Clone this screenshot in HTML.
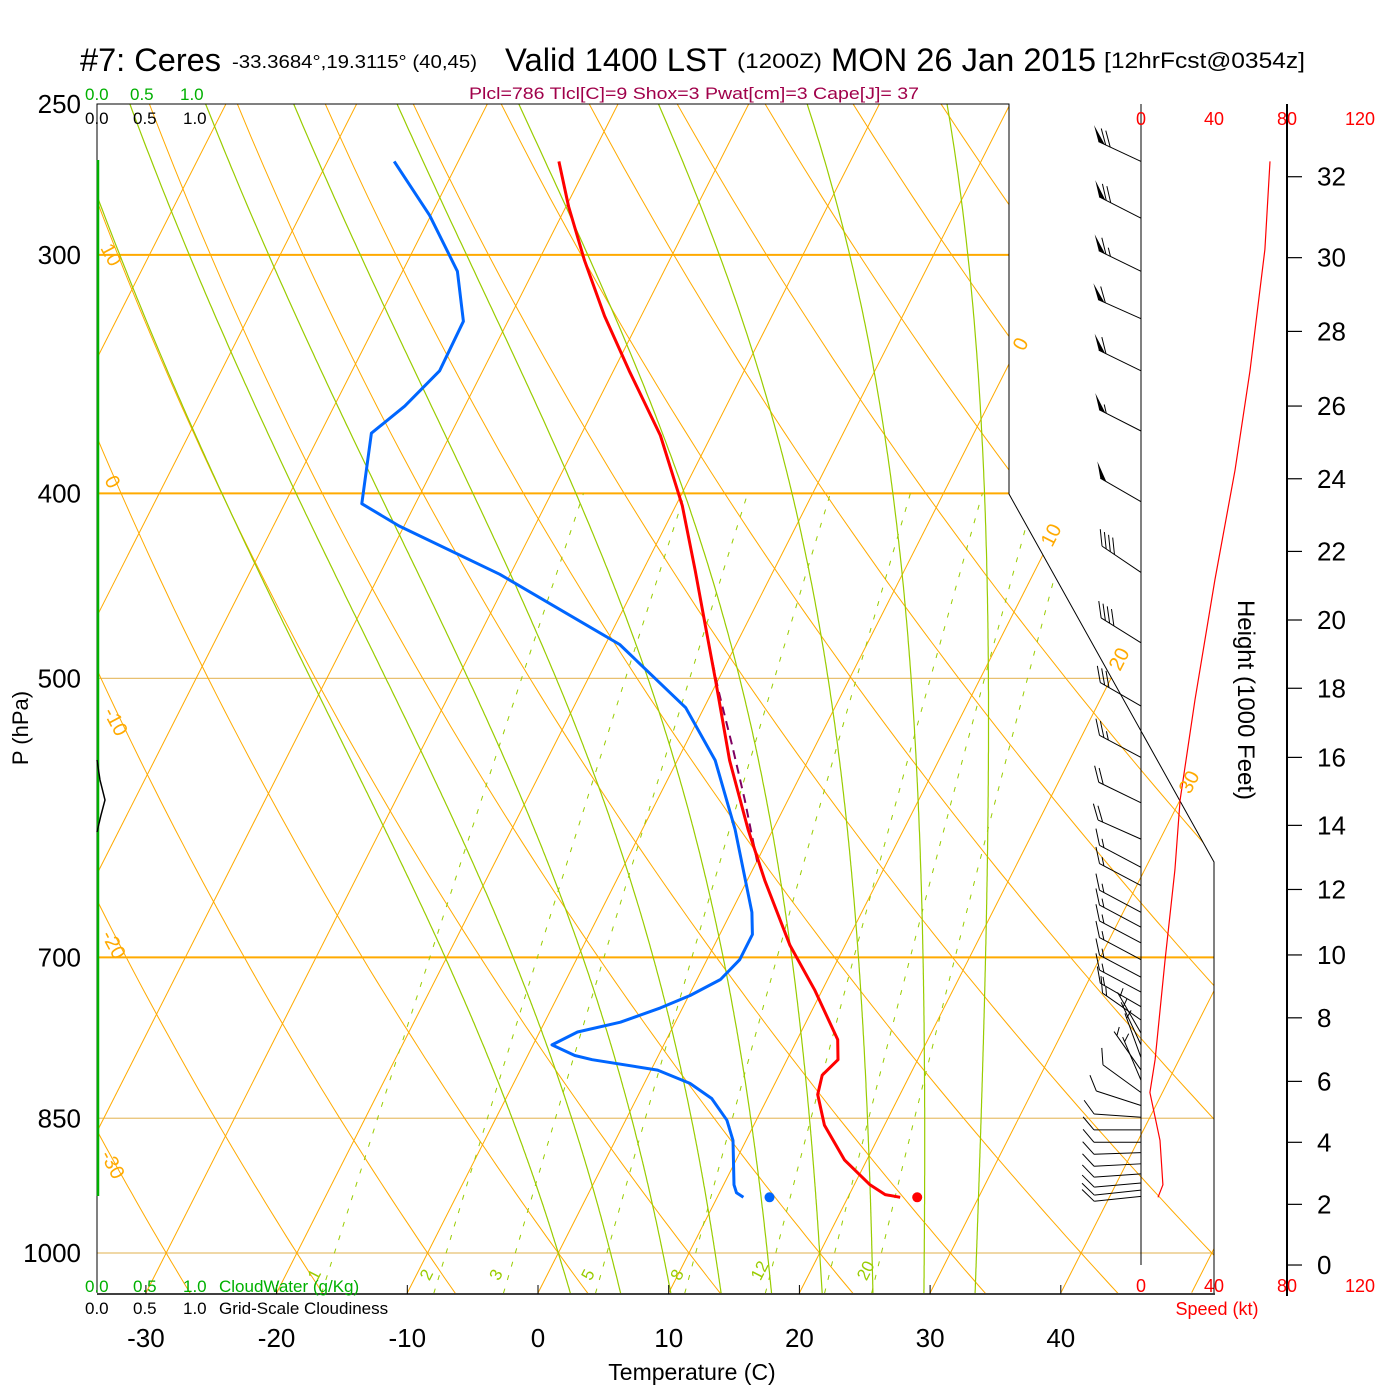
<!DOCTYPE html>
<html><head><meta charset="utf-8"><style>
html,body{margin:0;padding:0;background:#fff;overflow:hidden;}
svg{display:block;font-family:"Liberation Sans",sans-serif;}
</style></head><body>
<svg id="chart" width="1400" height="1400" viewBox="0 0 1400 1400" xmlns="http://www.w3.org/2000/svg">
<defs><clipPath id="plotclip"><polygon points="97,104 1009,104 1009,494 1214,862 1214,1293 97,1293"/></clipPath></defs>
<g id="title">
<text x="80" y="71" font-size="32" textLength="141" lengthAdjust="spacingAndGlyphs">#7: Ceres</text>
<text x="232" y="68" font-size="18" textLength="245" lengthAdjust="spacingAndGlyphs">-33.3684°,19.3115° (40,45)</text>
<text x="505" y="71" font-size="32" textLength="222" lengthAdjust="spacingAndGlyphs">Valid 1400 LST</text>
<text x="737" y="68" font-size="21" textLength="85" lengthAdjust="spacingAndGlyphs">(1200Z)</text>
<text x="831" y="71" font-size="32" textLength="265" lengthAdjust="spacingAndGlyphs">MON 26 Jan 2015</text>
<text x="1104" y="68" font-size="22" textLength="201" lengthAdjust="spacingAndGlyphs">[12hrFcst@0354z]</text>
<text x="469" y="99" font-size="17" fill="#a0004a" textLength="450" lengthAdjust="spacingAndGlyphs">Plcl=786 Tlcl[C]=9 Shox=3 Pwat[cm]=3 Cape[J]= 37</text>
</g>
<g id="grid" clip-path="url(#plotclip)"></g>
<g id="frame"></g>
<g id="curves"></g>
<g id="winds"></g>
<g id="labels"></g>
<g>
<g fill="#00b000" font-size="17">
<text x="85" y="100">0.0</text><text x="130" y="100">0.5</text><text x="180" y="100">1.0</text>
<text x="85" y="1292">0.0</text><text x="133" y="1292">0.5</text><text x="183" y="1292">1.0</text>
<text x="219" y="1292">CloudWater (g/Kg)</text>
</g>
<g fill="#000" font-size="17">
<text x="85" y="124">0.0</text><text x="133" y="124">0.5</text><text x="183" y="124">1.0</text>
<text x="85" y="1314">0.0</text><text x="133" y="1314">0.5</text><text x="183" y="1314">1.0</text>
<text x="219" y="1314">Grid-Scale Cloudiness</text>
</g>
<g fill="#ffaa00" font-size="20">
<text x="100" y="248" transform="rotate(62 100 248)">10</text>
<text x="104" y="480" transform="rotate(62 104 480)">0</text>
<text x="103" y="712" transform="rotate(62 103 712)">-10</text>
<text x="101" y="935" transform="rotate(62 101 935)">-20</text>
<text x="100" y="1155" transform="rotate(62 100 1155)">-30</text>
<text x="1024" y="352" transform="rotate(-63 1024 352)">0</text>
<text x="1052" y="548" transform="rotate(-63 1052 548)">10</text>
<text x="1120" y="672" transform="rotate(-63 1120 672)">20</text>
<text x="1190" y="795" transform="rotate(-63 1190 795)">30</text>
</g>
<text x="692" y="1380" font-size="23" text-anchor="middle">Temperature (C)</text>
<text x="28" y="728" font-size="22" text-anchor="middle" transform="rotate(-90 28 728)">P (hPa)</text>
<text x="1238" y="700" font-size="24" text-anchor="middle" transform="rotate(90 1238 700)">Height (1000 Feet)</text>
<text x="1217" y="1315" font-size="18" fill="#ff0000" text-anchor="middle">Speed (kt)</text>
</g>
</svg>
<script>
// ---------- data ----------
const tempP = [268,283,302,323,345,373,406,439,469,501,552,600,638,690,728,773,792,807,826,857,894,921,932,935];
const tempT = [-42.3,-39.8,-36.5,-32.8,-28.8,-23.9,-19.5,-16.0,-13.1,-10.2,-6.0,-1.9,1.35,5.8,9.4,13.1,13.9,13.3,13.7,15.4,18.3,21.2,22.75,24.0];
const dewP = [268,286,306,325,345,360,372,405,416,441,480,518,552,600,663,681,702,719,733,744,757,766,778,788,792,802,815,830,852,873,921,930,935];
const dewT = [-54.9,-50.1,-45.8,-43.4,-43.3,-44.6,-46.1,-44.1,-40.4,-30.8,-18.9,-11.4,-7.1,-2.9,1.6,2.5,2.5,1.8,0.1,-1.7,-4.2,-7.1,-8.55,-6.4,-4.9,0.5,3.5,5.75,7.75,9.0,10.8,11.3,12.0];
const parcelP = [482,507,542,579,626];
const parcelT = [-11.9,-9.6,-6.4,-3.3,0.2];
const sfcP = 935, sfcT = 25.3, sfcTd = 14.0;
const windP = [268,287,306,324,345,371,404,440,479,517,550,581,607,628,642,663,675,688,702,717,730,743,755,767,778,790,802,812,824,837,849,862,875,886,898,909,919,927,934];
const windSpd = [70,70,65,60,60,55,50,40,40,30,25,20,20,15,15,15,15,15,15,15,15,15,15,5,5,5,5,5,10,10,10,10,10,10,10,10,10,10,10];
const windDir = [295,297,296,294,296,297,300,304,302,300,298,296,294,298,298,298,298,298,298,298,298,300,305,330,335,340,325,337,306,288,274,270,270,268,267,266,265,264,264];
const speedP = [268,298,345,389,444,513,579,630,702,792,824,873,921,935];
const speedVal = [70.7,67.9,59.7,51.5,40.5,29.6,21.4,18.6,13.2,7.7,4.9,10.4,12,9.3];
const heightTicks = [0,2,4,6,8,10,12,14,16,18,20,22,24,26,28,30,32];
const heightP = [1014.6,943,875,813,753,698,645,597,550,506,466,429,393,360,329,301,273];
const isoT = [-110,-100,-90,-80,-70,-60,-50,-40,-30,-20,-10,0,10,20,30,40,50];
const thetaC = [-40,-30,-20,-10,0,10,20,30,40,50,60,70,80,90,100,110,120,130,140,150,160,170,180];
const thetaW = [0,4,8,12,16,20,24,28,32];
const mixR = [1,2,3,5,8,12,16,20];
const mixLbl = [1,2,3,5,8,12,20];
const pLabels = [250,300,400,500,700,850,1000];
const tLabels = [-30,-20,-10,0,10,20,30,40];
const spdLabels = [0,40,80,120];

// ---------- axes ----------
const NS="http://www.w3.org/2000/svg";
function yP(p){return 1253+829*Math.log(p/1000);}
function xT(T,p){return 538+13.07*T+0.507*(1293-yP(p));}
function xS(s){return 1141+s*73/40;}
function mk(tag,attrs,parent){const e=document.createElementNS(NS,tag);for(const k in attrs)e.setAttribute(k,attrs[k]);parent.appendChild(e);return e;}
function es(T){return 6.112*Math.exp(17.67*T/(T+243.5));}
function tdFromE(e){const l=Math.log(e/6.112);return 243.5*l/(17.67-l);}
const G=document.getElementById('grid'),F=document.getElementById('frame'),C=document.getElementById('curves'),W=document.getElementById('winds'),L=document.getElementById('labels');
const ORG="#ffaa00",GRN="#99cc00";

pLabels.forEach(p=>{
  const thick=(p===300||p===400||p===700);
  const l=mk('line',{x1:97,x2:1214,y1:yP(p),y2:yP(p),stroke:thick?ORG:"#e8c070","stroke-width":thick?2:1.2},G);
  
  
});
isoT.forEach(T=>{
  const l=mk('line',{x1:xT(T,1049),y1:yP(1049),x2:xT(T,240),y2:yP(240),stroke:ORG,"stroke-width":1},G);
  
  
});
thetaC.forEach(th=>{
  let pts=[];for(let p=1050;p>=240;p-=10){const T=(th+273.15)*Math.pow(p/1000,0.2857)-273.15;pts.push(xT(T,p).toFixed(1)+','+yP(p).toFixed(1));}
  const l=mk('polyline',{points:pts.join(' '),fill:'none',stroke:ORG,"stroke-width":1},G);
  
  
});
function dTdp(Tk,p){const e=es(Tk-273.15);const rs=0.622*e/(p-e);return (287*Tk+2.5e6*rs)/(p*(1004+2.5e6*2.5e6*rs*0.622/(287*Tk*Tk)));}
thetaW.forEach(tw=>{
  let up=[],T=tw+273.15;
  for(let p=1000;p>=240;p-=2){up.push([p,T]);T-=dTdp(T,p)*2;}
  let dn=[];T=tw+273.15;
  for(let p=1000;p<=1052;p+=2){dn.push([p,T]);T+=dTdp(T,p)*2;}
  const all=dn.reverse().concat(up);
  const pts=all.map(a=>xT(a[1]-273.15,a[0]).toFixed(1)+','+yP(a[0]).toFixed(1));
  const l=mk('polyline',{points:pts.join(' '),fill:'none',stroke:GRN,"stroke-width":1.2},G);
  
  
});
mixR.forEach(w=>{
  let pts=[];for(let p=1050;p>=400;p-=10){const e=w*p/(622+w);pts.push(xT(tdFromE(e),p).toFixed(1)+','+yP(p).toFixed(1));}
  const l=mk('polyline',{points:pts.join(' '),fill:'none',stroke:GRN,"stroke-width":1,"stroke-dasharray":"5,9"},G);
  
  
});
mixLbl.forEach(w=>{
  const p=1035,e=w*p/(622+w),x=xT(tdFromE(e),p)-8,y=yP(p);
  const t=mk('text',{x:x,y:y,"font-size":17,fill:GRN,transform:`rotate(-63 ${x} ${y})`},L);
  t.textContent=w;
  
  
});

mk('polyline',{points:"97,1293 97,104 1009,104 1009,494 1214,862 1214,1293",fill:'none',stroke:'#000',"stroke-width":1},F);
mk('line',{x1:97,y1:1294,x2:1215,y2:1294,stroke:'#000',"stroke-width":1.5},F);
mk('line',{x1:1141,y1:104,x2:1141,y2:1265,stroke:'#000',"stroke-width":1},F);
mk('line',{x1:1287,y1:104,x2:1287,y2:1296,stroke:'#000',"stroke-width":2},F);
const cw=mk('line',{x1:98,y1:160,x2:98,y2:1196,stroke:'#00b000',"stroke-width":2.5},F);


const cl=mk('polyline',{points:"97,760 100,780 105,800 101,815 97,832",fill:'none',stroke:'#000',"stroke-width":1.5},F);



tLabels.forEach(T=>{
  const x=538+13.07*T;
  mk('line',{x1:x,x2:x,y1:1294,y2:1285,stroke:'#000',"stroke-width":1},F);
  const t=mk('text',{x:x,y:1347,"font-size":26,"text-anchor":"middle"},L);
  t.textContent=T;
  
  
});
pLabels.forEach(p=>{
  const t=mk('text',{x:81,y:yP(p)+9,"font-size":26,"text-anchor":"end"},L);
  t.textContent=p;
  
  
});
heightTicks.forEach((h,i)=>{
  const y=yP(heightP[i]);
  mk('line',{x1:1287,x2:1302,y1:y,y2:y,stroke:'#000',"stroke-width":1.2},F);
  const t=mk('text',{x:1317,y:y+9,"font-size":26},L);
  t.textContent=h;
  
  
});
spdLabels.forEach(s=>{
  [125,1292].forEach(y=>{
    const t=mk('text',{x:xS(s),y:y,"font-size":18,fill:'#ff0000',"text-anchor":"middle"},L);
    t.textContent=s;
    
    
  });
});

function line(P,T,attrs,name){
  const pts=P.map((p,i)=>xT(T[i],p).toFixed(1)+','+yP(p).toFixed(1)).join(' ');
  const e=mk('polyline',Object.assign({points:pts,fill:'none'},attrs),C);
  
  
}
line(parcelP,parcelT,{stroke:'#800060',"stroke-width":2,"stroke-dasharray":"9,6"},'parcel-path');
line(dewP,dewT,{stroke:'#0066ff',"stroke-width":3,"stroke-linejoin":"round"},'dewpoint-profile');
line(tempP,tempT,{stroke:'#ff0000',"stroke-width":3,"stroke-linejoin":"round"},'temperature-profile');
const d1=mk('circle',{cx:xT(sfcT,sfcP),cy:yP(sfcP),r:5,fill:'#ff0000'},C);


const d2=mk('circle',{cx:xT(sfcTd,sfcP),cy:yP(sfcP),r:5,fill:'#0066ff'},C);



const sp=mk('polyline',{points:speedP.map((p,i)=>xS(speedVal[i]).toFixed(1)+','+yP(p).toFixed(1)).join(' '),fill:'none',stroke:'#ff0000',"stroke-width":1.2},C);



windP.forEach((p,i)=>{
  const g=mk('g',{},W);
  
  
  const d=windDir[i]*Math.PI/180,ux=Math.sin(d),uy=-Math.cos(d);
  const a=50*Math.PI/180,bx=ux*Math.cos(a)-uy*Math.sin(a),by=ux*Math.sin(a)+uy*Math.cos(a);
  const x0=1141,y0=yP(p),Lg=47,ex=x0+ux*Lg,ey=y0+uy*Lg;
  mk('line',{x1:x0,y1:y0,x2:ex,y2:ey,stroke:'#000',"stroke-width":1},g);
  let s=windSpd[i],pos=0;
  const pen=Math.floor(s/50);s-=pen*50;const full=Math.floor(s/10);s-=full*10;const half=s>=5?1:0;
  for(let k=0;k<pen;k++){
    const px=ex-ux*pos,py=ey-uy*pos;
    mk('polygon',{points:`${px},${py} ${px+bx*17},${py+by*17} ${px-ux*7},${py-uy*7}`,fill:'#000'},g);
    pos+=8;
  }
  for(let k=0;k<full;k++){
    const px=ex-ux*pos,py=ey-uy*pos;
    mk('line',{x1:px,y1:py,x2:px+bx*17,y2:py+by*17,stroke:'#000',"stroke-width":1},g);
    pos+=5;
  }
  if(half){
    if(pos===0)pos=5;
    const px=ex-ux*pos,py=ey-uy*pos;
    mk('line',{x1:px,y1:py,x2:px+bx*9,y2:py+by*9,stroke:'#000',"stroke-width":1},g);
  }
});
</script>
</body></html>
